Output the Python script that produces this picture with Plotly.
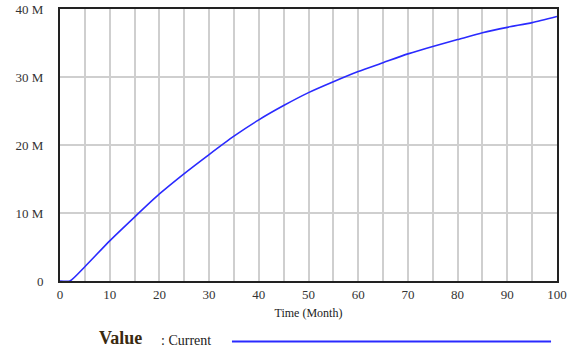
import plotly.graph_objects as go

# Data
months = [0, 2, 5, 10, 15, 20, 25, 30, 35, 40, 45, 50, 55, 60, 65, 70, 75, 80, 85, 90, 95, 100]
current = [0, 0, 2.1e6, 5.9e6, 9.4e6, 12.8e6, 15.8e6, 18.6e6, 21.3e6, 23.7e6, 25.8e6, 27.7e6,
           29.3e6, 30.8e6, 32.1e6, 33.4e6, 34.5e6, 35.5e6, 36.5e6, 37.3e6, 38.0e6, 38.9e6]

y_tickvals = [0, 10e6, 20e6, 30e6, 40e6]
y_ticktext = ["0", "10 M", "20 M", "30 M", "40 M"]
x_tickvals = [0, 10, 20, 30, 40, 50, 60, 70, 80, 90, 100]

serif = "Liberation Serif, Times New Roman, serif"

fig = go.Figure()
fig.add_trace(go.Scatter(x=months, y=current, mode="lines", line_shape="spline",
                         line=dict(color="#2a2aff", width=1.6, smoothing=0.6), name="Current",
                         showlegend=False))

fig.update_layout(
    width=567, height=349,
    margin=dict(l=60, r=10, t=9, b=68),
    paper_bgcolor="white", plot_bgcolor="white",
    font=dict(family=serif, color="#222"),
    xaxis=dict(range=[0, 100], tickvals=x_tickvals, showgrid=True, gridcolor="#cfcfcf",
               gridwidth=1.5, minor=dict(dtick=5, showgrid=True, gridcolor="#cfcfcf", gridwidth=1.5),
               showline=True, linecolor="#222", linewidth=2, mirror=True,
               ticks="", tickfont=dict(family=serif, size=13, color="#333"),
               title=dict(text="Time (Month)", font=dict(family=serif, size=12, color="#222"), standoff=8),
               zeroline=False, fixedrange=True, automargin=False),
    yaxis=dict(range=[0, 40e6], tickvals=y_tickvals, ticktext=y_ticktext, showgrid=True,
               gridcolor="#cfcfcf", gridwidth=1.5,
               showline=True, linecolor="#222", linewidth=2, mirror=True,
               ticks="", tickfont=dict(family=serif, size=13, color="#333"),
               ticklabelstandoff=12, zeroline=False, fixedrange=True, automargin=False),
)

# Legend row at the bottom
fig.add_annotation(xref="paper", yref="paper", x=0.075, y=-0.208, xanchor="left", yanchor="middle",
                   text="<b>Value</b>", showarrow=False,
                   font=dict(family=serif, size=18, color="#3a2a10"))
fig.add_annotation(xref="paper", yref="paper", x=0.2, y=-0.218, xanchor="left", yanchor="middle",
                   text=": Current", showarrow=False,
                   font=dict(family=serif, size=14, color="#222"))
fig.add_shape(type="line", xref="paper", yref="paper", x0=0.346, x1=0.988, y0=-0.222, y1=-0.222,
              line=dict(color="#2a2aff", width=2))

fig.write_html("out.html")
